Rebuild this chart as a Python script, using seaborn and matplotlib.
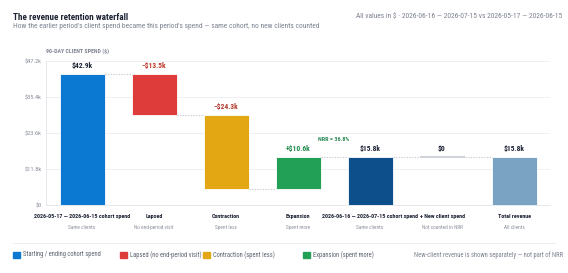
import numpy as np
import pandas as pd
import matplotlib
matplotlib.use("Agg")
import matplotlib.pyplot as plt
import seaborn as sns
from matplotlib import font_manager

sns.set_theme(style="white")
names = {f.name for f in font_manager.fontManager.ttflist}
fam = [n for n in ["Liberation Sans Narrow", "Roboto Condensed", "DejaVu Sans Condensed", "Inter"] if n in names]
plt.rcParams['font.family'] = fam[:1] + ['DejaVu Sans']

# ---- data ----
categories = ["2026-05-17 — 2026-06-15 cohort spend", "Lapsed", "Contraction", "Expansion",
              "2026-06-16 — 2026-07-15 cohort spend", "+ New client spend", "Total revenue"]
sublabels = ["Same clients", "No end-period visit", "Spent less", "Spent more",
             "Same clients", "Not counted in NRR", "All clients"]
changes = [42.9, -13.5, -24.3, 10.6, 15.8, 0.0, 15.8]   # $k
kinds = ["total", "delta", "delta", "delta", "total", "delta", "total"]
value_labels = ["$42.9k", "−$13.5k", "−$24.3k", "+$10.6k", "$15.8k", "$0", "$15.8k"]
bar_colors = ["#0b78d1", "#de3b3b", "#e3a713", "#22a055", "#0c4f8b", "#c9cdd6", "#7aa2c3"]
label_colors = ["#1c2333", "#c0392b", "#b0392b", "#1f8a4c", "#1c2333", "#1c2333", "#1c2333"]
yticks = [0, 11.8, 23.6, 35.4, 47.2]
ytick_labels = ["$0", "$11.8k", "$23.6k", "$35.4k", "$47.2k"]
nrr_text = "NRR = 36.8%"
legend_labels = ["Starting / ending cohort spend", "Lapsed (no end-period visit)",
                 "Contraction (spent less)", "Expansion (spent more)"]
legend_colors = ["#0b78d1", "#de3b3b", "#e3a713", "#22a055"]

bottoms, heights, tops = [], [], []
running = 0.0
for c, k in zip(changes, kinds):
    if k == "total":
        b, h = 0.0, c
        running = c
    else:
        if c >= 0:
            b, h = running, c
        else:
            b, h = running + c, -c
        running = running + c
    bottoms.append(b); heights.append(h); tops.append(running)

df = pd.DataFrame({"cat": categories, "h": heights})

fig = plt.figure(figsize=(5.68, 2.73), dpi=100)
ax = fig.add_axes([46/568, 1-205/273, (550-46)/568, (205-61)/273])

sns.barplot(data=df, x="cat", y="h", order=categories, ax=ax, width=0.625,
            bottom=bottoms, color="#888888", linewidth=0)
patches = ax.patches
for p, col in zip(patches, bar_colors):
    p.set_facecolor(col)
    p.set_edgecolor("white")
    p.set_linewidth(0.6)

p5 = patches[5]
ax.plot([p5.get_x(), p5.get_x() + p5.get_width()], [bottoms[5], bottoms[5]],
        color="#c5c9d3", lw=1.2, solid_capstyle="butt", zorder=3)

for i in range(len(categories) - 1):
    pa, pb = patches[i], patches[i + 1]
    ax.plot([pa.get_x() + pa.get_width(), pb.get_x()], [tops[i], tops[i]],
            color="#c9ccd4", lw=0.8, ls=(0, (1.2, 1.2)), zorder=1)

for i, p in enumerate(patches):
    y = bottoms[i] + heights[i]
    ax.text(p.get_x() + p.get_width() / 2, y + 1.3, value_labels[i], ha="center", va="bottom",
            fontsize=5.4, fontweight="bold", color=label_colors[i])

ax.text(3.5, tops[3] + 5.9, nrr_text, ha="center", va="center", fontsize=4.4,
        fontweight="bold", color="#2e8a55")

ax.set_xlim(-0.5, len(categories) - 0.5)
ax.set_ylim(0, yticks[-1])
ax.set_yticks(yticks)
ax.set_yticklabels(ytick_labels, fontsize=4.6, color="#8a8f9c")
ax.set_xticks(range(len(categories)))
ax.set_xticklabels([])
ax.tick_params(axis="both", length=0, pad=3)
ax.set_xlabel(""); ax.set_ylabel("")
ax.grid(axis="y", color="#eef0f3", lw=0.7)
ax.set_axisbelow(True)
for s in ["top", "right"]:
    ax.spines[s].set_visible(False)
ax.spines["left"].set_color("#e6e8ee"); ax.spines["left"].set_linewidth(0.7)
ax.spines["bottom"].set_color("#e6e8ee"); ax.spines["bottom"].set_linewidth(0.7)

for i, (c, s) in enumerate(zip(categories, sublabels)):
    ax.text(i, -2.8, c, ha="center", va="top", fontsize=4.3, fontweight="bold", color="#1c2333")
    ax.text(i, -6.4, s, ha="center", va="top", fontsize=3.8, color="#8a8f9c")

fig.text(13/568, 1-17/273, "The revenue retention waterfall", fontsize=6.6, fontweight="bold",
         color="#1c2333", va="center")
fig.text(13/568, 1-27/273, "How the earlier period's client spend became this period's spend — same cohort, no new clients counted",
         fontsize=5.4, color="#7d8391", va="center")
fig.text(562/568, 1-17/273, "All values in $ · 2026-06-16 — 2026-07-15 vs 2026-05-17 — 2026-06-15",
         fontsize=5.4, color="#7d8391", va="center", ha="right")
fig.text(46/568, 1-51/273, "90-DAY CLIENT SPEND ($)", fontsize=4.2, fontweight="bold",
         color="#7d8391", va="center")

fig.add_artist(plt.Line2D([13/568, 556/568], [1-243/273, 1-243/273], color="#eceef2", lw=0.7))

lx = [13, 120, 203, 303]
for x, lab, col in zip(lx, legend_labels, legend_colors):
    fig.add_artist(plt.Rectangle((x/568, 1-258/273), 7/568, 6/273, color=col, transform=fig.transFigure))
    fig.text((x+10)/568, 1-255/273, lab, fontsize=4.7, color="#5d6372", va="center")
fig.text(563/568, 1-255/273, "New-client revenue is shown separately — not part of NRR",
         fontsize=4.8, color="#7d8391", va="center", ha="right")

fig.savefig("out.png", dpi=100, facecolor="white")
